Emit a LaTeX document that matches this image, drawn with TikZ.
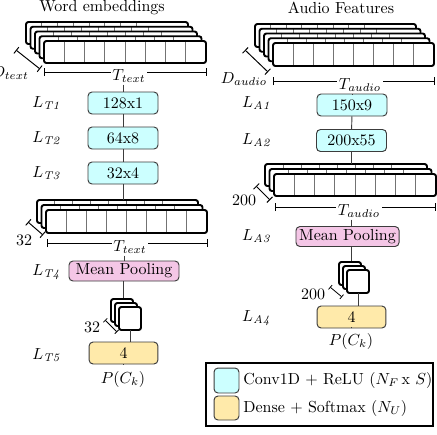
\documentclass[tikz,border=0pt]{standalone}
\usetikzlibrary{arrows.meta}
\definecolor{convc}{RGB}{204,255,255}
\definecolor{poolc}{RGB}{244,198,230}
\definecolor{densec}{RGB}{255,234,170}
\definecolor{edgec}{RGB}{60,60,60}
\newcommand{\mylayer}[4]{%
  \fill[white,rounded corners=1.5pt] (#1,#2) rectangle (#3,#4);
  \foreach \i in {1,...,7}{\draw[cellline] ({#1+(#3-#1)*\i/8},#2) -- ({#1+(#3-#1)*\i/8},#4);}
  \draw[layerbox] (#1,#2) rectangle (#3,#4);
}
\newcommand{\mystack}[7]{% x1 y1 x2 y2 n dx dy
  \foreach \k in {#5,...,1}{\mylayer{#1-\k*#6}{#2-\k*#7}{#3-\k*#6}{#4-\k*#7}}
  \mylayer{#1}{#2}{#3}{#4}
}
\newcommand{\mysquares}[5]{% x1 y1 x2 y2 offset
  \foreach \k in {2,1}{\draw[layerbox,fill=white] (#1-\k*#5,#2-\k*#5) rectangle (#3-\k*#5,#4-\k*#5);}
  \draw[layerbox,fill=white] (#1,#2) rectangle (#3,#4);
}
\tikzset{
  layerbox/.style={draw=black,line width=1.2pt,rounded corners=1.5pt},
  cellline/.style={draw=black!55,line width=0.5pt},
  blk/.style={draw=edgec,line width=0.6pt,rounded corners=2.5pt,minimum height=13.75pt,inner sep=1pt,font=\normalsize},
  conv/.style={blk,fill=convc,minimum width=43.75pt},
  pool/.style={blk,fill=poolc,minimum height=12.5pt},
  dense/.style={blk,fill=densec,minimum width=43pt},
  conn/.style={draw=edgec,line width=0.6pt},
  dimline/.style={draw=black,line width=0.6pt,{Bar[width=5pt]}-{Bar[width=5pt]}},
  sdimline/.style={draw=black,line width=0.5pt,{Bar[width=3.5pt]}-{Bar[width=3.5pt]}},
  tlab/.style={fill=white,inner sep=1pt},
  lay/.style={inner sep=0pt}
}
\begin{document}
\begin{tikzpicture}[x=0.625pt,y=-0.625pt]
\useasboundingbox (0,0) rectangle (437,434);
% titles
\node (title1) at (102,8) {Word embeddings};
\node (title2) at (341,8) {Audio Features};

% ---------- text branch ----------
\mystack{44}{41}{206}{63}{4}{4.5}{4.75}
\draw[dimline] (16,50) -- (40,69);
\node[anchor=east,inner sep=0pt] (dt) at (29,73) {$D_{text}$};
\draw[dimline] (44,72) -- (207,72);
\node[tlab] (tt1) at (129,76) {$T_{text}$};

\node[conv] (b1) at (123,103) {128x1};
\node[conv] (b2) at (123,138) {64x8};
\node[conv] (b3) at (123,173) {32x4};
\node (lt1) at (47,103) {$L_{\mathit{T1}}$};
\node (lt2) at (47,138) {$L_{\mathit{T2}}$};
\node (lt3) at (47,173) {$L_{\mathit{T3}}$};

\coordinate (s2top) at (123,200);
\mystack{46}{210}{207}{233}{2}{4.5}{5}
\draw[dimline] (28,222) -- (43,235);
\node (n32a) at (24,240) {32};
\draw[dimline] (47,243) -- (208,243);
\node[tlab] (tt2) at (130,247) {$T_{text}$};

\node[pool,minimum width=68.75pt] (mp1) at (124,271) {Mean Pooling};
\node (lt4) at (47,272) {$L_{\mathit{T4}}$};

\coordinate (sq1top) at (123,298);
\coordinate (sq1bot) at (130,330);
\mysquares{119}{307}{141}{330}{4}
\draw[sdimline] (105,320) -- (117,332);
\node (n32b) at (92,327) {32};

\node[dense] (d1) at (123.5,353) {4};
\node (lt5) at (47,355) {$L_{\mathit{T5}}$};
\node (p1) at (123,379) {$P(C_k)$};

\draw[conn] (tt1.south -| b1.north) -- (b1.north);
\draw[conn] (b1) -- (b2);
\draw[conn] (b2) -- (b3);
\draw[conn] (b3.south) -- (s2top);
\draw[conn] (tt2.south -| mp1.north) -- (mp1.north);
\draw[conn] (mp1.south -| sq1top) -- (sq1top);
\draw[conn] (sq1bot) -- (sq1bot |- d1.north);
\draw[conn] (d1.south) -- (d1.south |- p1.north);

% ---------- audio branch ----------
\mystack{273}{43}{434}{66}{4}{4.5}{4.75}
\draw[dimline] (245,50) -- (268,72);
\node (da) at (244,79) {$D_{audio}$};
\draw[dimline] (273,81) -- (435,81);
\node[tlab] (ta1) at (360,85) {$T_{audio}$};

\node[conv] (a1) at (352,105) {150x9};
\node[conv] (a2) at (351.5,140.5) {200x55};
\node (la1) at (257,103) {$L_{\mathit{A1}}$};
\node (la2) at (257,140) {$L_{\mathit{A2}}$};

\coordinate (r2top) at (351.5,164);
\mystack{274}{174}{436}{196}{2}{4.5}{5}
\draw[dimline] (256,186) -- (270,200);
\node (n200a) at (244,200) {200};
\draw[dimline] (275,207) -- (436,207);
\node[tlab] (ta2) at (359,211) {$T_{audio}$};

\node[pool,minimum width=64.4pt] (mp2) at (347.5,236.5) {Mean Pooling};
\node (la3) at (257,236) {$L_{\mathit{A3}}$};

\coordinate (sq2top) at (351,261);
\coordinate (sq2bot) at (358,293);
\mysquares{347}{270}{369}{293}{4}
\draw[sdimline] (330,287) -- (342,297);
\node (n200b) at (313,294) {200};

\node[dense] (d2) at (351.5,317) {4};
\node (la4) at (257,318) {$L_{\mathit{A4}}$};
\node (p2) at (351,341) {$P(C_k)$};

\draw[conn] (ta1.south -| a1.north) -- (a1.north);
\draw[conn] (a1) -- (a2);
\draw[conn] (a2.south) -- (r2top);
\draw[conn] (ta2.south -| sq2top) -- (sq2top |- mp2.north);
\draw[conn] (mp2.south -| sq2top) -- (sq2top);
\draw[conn] (sq2bot) -- (sq2bot |- d2.north);
\draw[conn] (d2.south) -- (d2.south |- p2.north);

% ---------- legend ----------
\node[draw=black,line width=1.2pt,minimum width=141.9pt,minimum height=39.4pt,inner sep=0pt,anchor=north west] (leg) at (205,362) {};
\node[draw=edgec,line width=0.6pt,rounded corners=2.5pt,fill=convc,minimum width=15.6pt,minimum height=15.6pt,inner sep=0pt] (sw1) at (226.5,380.5) {};
\node[draw=edgec,line width=0.6pt,rounded corners=2.5pt,fill=densec,minimum width=15.6pt,minimum height=15pt,inner sep=0pt] (sw2) at (226.5,408) {};
\node[anchor=west,inner sep=0pt] (lt1txt) at (243,380.5) {Conv1D + ReLU ($N_F\,$x $S$)};
\node[anchor=west,inner sep=0pt] (lt2txt) at (243,408) {Dense + Softmax ($N_U$)};
\end{tikzpicture}
\end{document}
